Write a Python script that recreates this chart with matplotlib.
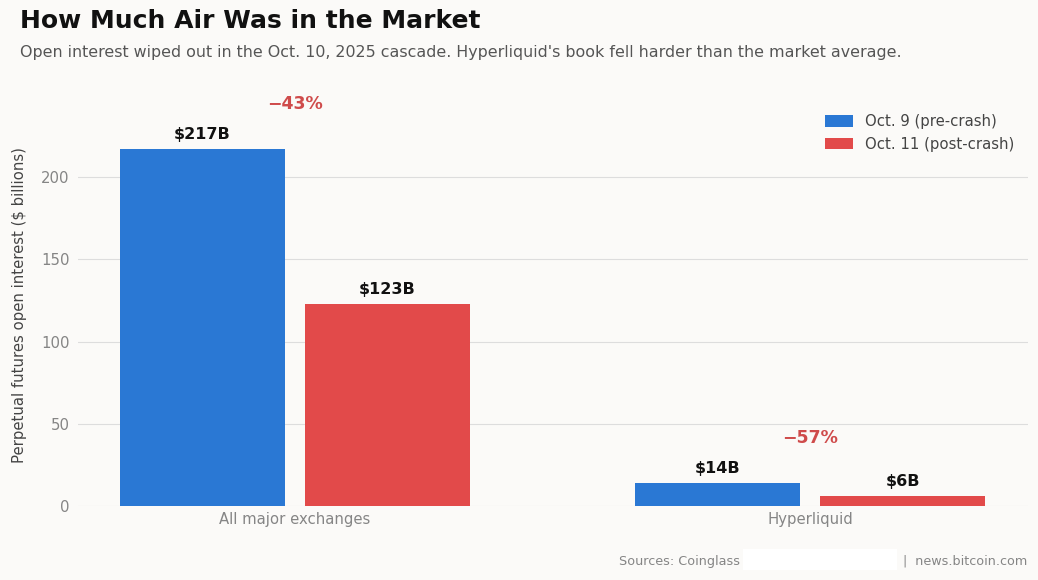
import numpy as np
import matplotlib.pyplot as plt
from matplotlib.patches import Rectangle

categories = ['All major exchanges', 'Hyperliquid']
pre_crash = [217, 14]
post_crash = [123, 6]
pre_labels = ['$217B', '$14B']
post_labels = ['$123B', '$6B']
pct_labels = ['\u221243%', '\u221257%']
series_names = ['Oct. 9 (pre-crash)', 'Oct. 11 (post-crash)']

bg = '#fbfaf8'
blue = '#2a78d4'
red = '#e24a4a'
grey = '#858585'

fig = plt.figure(figsize=(10.38, 5.80), dpi=100, facecolor=bg)
ax = fig.add_axes([0.0751, 0.1276, 0.9153, 0.7086], facecolor=bg)

x = np.arange(len(categories))
w = 0.32
b1 = ax.bar(x - 0.18, pre_crash, w, color=blue, label=series_names[0], zorder=3)
b2 = ax.bar(x + 0.18, post_crash, w, color=red, label=series_names[1], zorder=3)

for bars, labs in [(b1, pre_labels), (b2, post_labels)]:
    for r, lab in zip(bars, labs):
        ax.annotate(lab, (r.get_x() + r.get_width() / 2, r.get_height()),
                    xytext=(0, 5), textcoords='offset points', ha='center', va='bottom',
                    fontsize=11.5, fontweight='bold', color='#111111')

for xi, a, lab in zip(x, pre_crash, pct_labels):
    ax.annotate(lab, (xi, a), xytext=(0, 26), textcoords='offset points', ha='center',
                va='bottom', fontsize=12.5, fontweight='bold', color='#cf4b4b')

ax.set_xlim(-0.421, 1.423)
ax.set_ylim(0, 250)
ax.set_yticks([0, 50, 100, 150, 200])
ax.set_xticks(x)
ax.set_xticklabels(categories)
ax.tick_params(axis='both', length=0, colors=grey, labelsize=10.7)
ax.tick_params(axis='y', pad=6)
ax.tick_params(axis='x', pad=4)
ax.grid(axis='y', color='#dddddd', linewidth=0.8, zorder=0)
for s in ax.spines.values():
    s.set_visible(False)
ax.set_ylabel('Perpetual futures open interest ($ billions)', fontsize=10.7, color='#444444')
ax.yaxis.set_label_coords(-0.054, 0.49)

ax.legend(loc='upper right', bbox_to_anchor=(0.995, 0.975), frameon=False, fontsize=10.7,
          labelcolor='#444444', handlelength=1.9, handleheight=0.8, borderaxespad=0.2)

fig.text(0.019, 0.963, 'How Much Air Was in the Market', fontsize=18, fontweight='bold',
         color='#111111', va='center')
fig.text(0.019, 0.909, "Open interest wiped out in the Oct. 10, 2025 cascade. Hyperliquid's book fell harder than the market average.",
         fontsize=11.4, color='#555555', va='center')

fig.text(0.596, 0.032, 'Sources: Coinglass', fontsize=9.2, color=grey, va='center')
fig.patches.append(Rectangle((0.716, 0.017), 0.148, 0.036, transform=fig.transFigure,
                             facecolor='white', edgecolor='none'))
fig.text(0.990, 0.032, '|  news.bitcoin.com', fontsize=9.2, color=grey, va='center', ha='right')

fig.savefig('out.png', dpi=100, facecolor=bg)
